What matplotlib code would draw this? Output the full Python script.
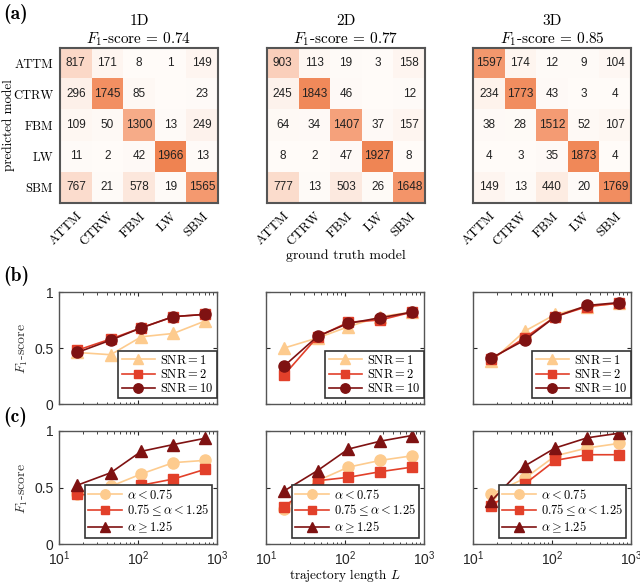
import numpy as np
import matplotlib
matplotlib.use("Agg")
import matplotlib.pyplot as plt
from matplotlib.colors import LinearSegmentedColormap

plt.rcParams['font.family'] = ['Liberation Sans', 'DejaVu Sans']
plt.rcParams['axes.unicode_minus'] = False

# ---------------- data ----------------
models = ['ATTM', 'CTRW', 'FBM', 'LW', 'SBM']
dims = ['1D', '2D', '3D']
f1_total = [0.74, 0.77, 0.85]

cm_1d = [[817, 171, 8, 1, 149],
         [296, 1745, 85, 0, 23],
         [109, 50, 1300, 13, 249],
         [11, 2, 42, 1966, 13],
         [767, 21, 578, 19, 1565]]
cm_2d = [[903, 113, 19, 3, 158],
         [245, 1843, 46, 0, 12],
         [64, 34, 1407, 37, 157],
         [8, 2, 47, 1927, 8],
         [777, 13, 503, 26, 1648]]
cm_3d = [[1597, 174, 12, 9, 104],
         [234, 1773, 43, 3, 4],
         [38, 28, 1512, 52, 107],
         [4, 3, 35, 1873, 4],
         [149, 13, 440, 20, 1769]]
cms = [cm_1d, cm_2d, cm_3d]

L_vals = [17, 45, 110, 280, 700]

snr_labels = [r'$\mathrm{SNR} = 1$', r'$\mathrm{SNR} = 2$', r'$\mathrm{SNR} = 10$']
snr_1d = [[0.46, 0.44, 0.60, 0.63, 0.74],
          [0.48, 0.58, 0.68, 0.78, 0.80],
          [0.46, 0.57, 0.68, 0.78, 0.80]]
snr_2d = [[0.50, 0.59, 0.69, 0.78, 0.82],
          [0.26, 0.60, 0.73, 0.75, 0.82],
          [0.34, 0.605, 0.72, 0.77, 0.82]]
snr_3d = [[0.38, 0.65, 0.80, 0.87, 0.90],
          [0.40, 0.59, 0.78, 0.87, 0.90],
          [0.41, 0.57, 0.78, 0.88, 0.905]]
snr_data = [snr_1d, snr_2d, snr_3d]

alpha_labels = [r'$\alpha < 0.75$', r'$0.75 \leq \alpha < 1.25$', r'$\alpha \geq 1.25$']
alpha_1d = [[0.44, 0.51, 0.62, 0.72, 0.74],
            [0.44, 0.425, 0.52, 0.575, 0.66],
            [0.52, 0.63, 0.82, 0.88, 0.935]]
alpha_2d = [[0.31, 0.56, 0.68, 0.74, 0.78],
            [0.33, 0.56, 0.59, 0.64, 0.68],
            [0.47, 0.65, 0.84, 0.91, 0.96]]
alpha_3d = [[0.44, 0.58, 0.78, 0.85, 0.89],
            [0.34, 0.53, 0.74, 0.79, 0.79],
            [0.38, 0.69, 0.85, 0.94, 0.98]]
alpha_data = [alpha_1d, alpha_2d, alpha_3d]

# ---------------- style ----------------
c_light = '#FDCB8E'
c_mid = '#E2402A'
c_dark = '#7F1212'
snr_styles = [(c_light, '^', 8.5), (c_mid, 's', 6.5), (c_dark, 'o', 8)]
alpha_styles = [(c_light, 'o', 8), (c_mid, 's', 6.5), (c_dark, '^', 8.5)]
cmap = LinearSegmentedColormap.from_list('wo', ['#FFFBF8', '#FCE3D6', '#F6A27C', '#EE7C48'])
SERIF = 'cmr10'
frame_col = '#555555'

fig = plt.figure(figsize=(6.4, 5.83), dpi=100)
W, H = 640, 583

def ax_at(x0, y0, x1, y1):
    return fig.add_axes([x0 / W, 1 - y1 / H, (x1 - x0) / W, (y1 - y0) / H])

xs = [(60, 218), (267, 425), (473, 631)]
xs_line = [(59, 217), (266, 424), (473, 631)]

# ---------------- (a) heatmaps ----------------
for k in range(3):
    ax = ax_at(xs[k][0], 48, xs[k][1], 203)
    M = np.array(cms[k], dtype=float)
    ax.imshow(M, cmap=cmap, vmin=0, vmax=2100, aspect='auto')
    for i in range(5):
        for j in range(5):
            v = cms[k][i][j]
            if v > 0:
                ax.text(j, i, str(v), ha='center', va='center', fontsize=8.5, color='#222222')
    ax.set_xticks(range(5))
    ax.set_yticks(range(5))
    ax.set_xticklabels(models, rotation=45, ha='right', rotation_mode='anchor',
                       fontfamily=SERIF, fontsize=9.5)
    if k == 0:
        ax.set_yticklabels(models, fontfamily=SERIF, fontsize=9)
    else:
        ax.set_yticklabels([])
    ax.tick_params(axis='y', length=0, pad=5)
    ax.tick_params(axis='x', length=0, pad=5)
    for s in ax.spines.values():
        s.set_color(frame_col)
        s.set_linewidth(1.5)
    t = ax.set_title(dims[k] + '\n' + r'$F_1$' + '-score = %.2f' % f1_total[k],
                     fontfamily=SERIF, fontsize=11, pad=3, linespacing=1.15)
    t.set_math_fontfamily('cm')
    if k == 1:
        ax.set_xlabel('ground truth model', fontfamily=SERIF, fontsize=10, labelpad=1)

fig.text(9 / W, 1 - 125 / H, 'predicted model', fontfamily=SERIF, fontsize=9.5,
         rotation=90, ha='center', va='center')

# ---------------- (b), (c) line plots ----------------
def line_panel(ax, data, styles, labels, show_y, show_x, leg_anchor):
    for s, (col, mk, ms) in enumerate(styles):
        ax.plot(L_vals, data[s], color=col, marker=mk, markersize=ms, lw=1.2,
                markeredgecolor=col, label=labels[s])
    ax.set_xscale('log')
    ax.set_xlim(10, 1000)
    ax.set_ylim(0, 1)
    ax.set_yticks([0, 0.5, 1])
    ax.tick_params(which='both', direction='in', top=True, right=True,
                   labelsize=10, colors='#262626', pad=4)
    ax.tick_params(which='major', length=3)
    ax.tick_params(which='minor', length=1.8)
    if show_y:
        ax.set_yticklabels(['0', '0.5', '1'])
    else:
        ax.set_yticklabels([])
    if not show_x:
        ax.set_xticklabels([])
    for sp in ax.spines.values():
        sp.set_color(frame_col)
        sp.set_linewidth(1.0)
    leg = ax.legend(loc='lower right', bbox_to_anchor=leg_anchor, fontsize=9, frameon=True,
                    fancybox=False, edgecolor='#333333', framealpha=1, borderpad=0.25,
                    labelspacing=0.1, handlelength=2.7, handletextpad=0.4, borderaxespad=0.0,
                    markerscale=0.85)
    leg.get_frame().set_linewidth(1.2)
    for t in leg.get_texts():
        t.set_fontfamily(SERIF)
        t.set_math_fontfamily('cm')
    return ax

for k in range(3):
    ax = ax_at(xs_line[k][0], 292, xs_line[k][1], 404)
    line_panel(ax, snr_data[k], snr_styles, snr_labels, k == 0, False, (1.0, 0.05))
for k in range(3):
    ax = ax_at(xs_line[k][0], 431, xs_line[k][1], 544)
    line_panel(ax, alpha_data[k], alpha_styles, alpha_labels, k == 0, True, (0.968, 0.05))
    if k == 1:
        xl = ax.set_xlabel(r'trajectory length $L$', fontfamily=SERIF, fontsize=9.5, labelpad=-1)
        xl.set_math_fontfamily('cm')

for yc in (348, 488):
    t = fig.text(22 / W, 1 - yc / H, r'$F_1$-score', fontfamily=SERIF, fontsize=10,
                 color='#333333', rotation=90, ha='center', va='center')
    t.set_math_fontfamily('cm')

# panel letters
fig.text(3 / W, 1 - 14 / H, '(a)', fontfamily='cmb10', fontsize=14, va='center')
fig.text(3 / W, 1 - 276 / H, '(b)', fontfamily='cmb10', fontsize=14, va='center')
fig.text(3 / W, 1 - 417 / H, '(c)', fontfamily='cmb10', fontsize=14, va='center')

fig.savefig('out.png', dpi=100)
